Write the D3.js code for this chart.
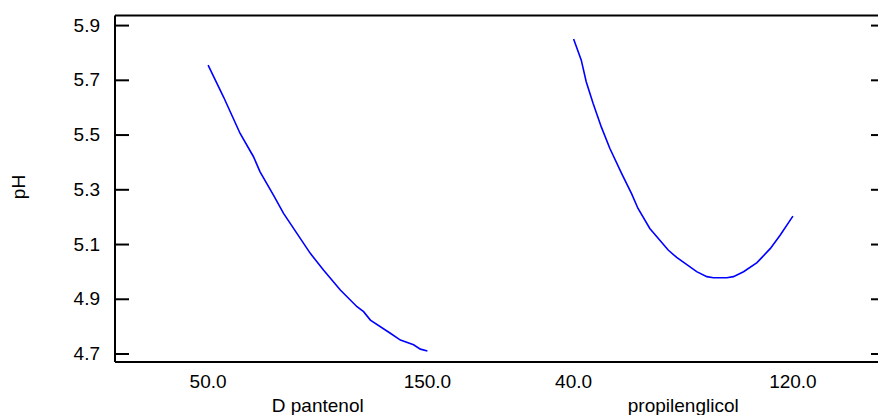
<!DOCTYPE html>
<html>
<head>
<meta charset="utf-8">
<script src="https://cdn.jsdelivr.net/npm/d3@7"></script>
<style>
  html, body { margin: 0; padding: 0; background: #fff; }
  svg { display: block; }
  text { font-family: "Liberation Sans", Arial, sans-serif; font-size: 19px; fill: #000; }
</style>
</head>
<body>
<svg id="chart" width="878" height="415"></svg>
<script>
// ---- data ----
const factors = ["D pantenol", "propilenglicol"];
const factorLow = [50, 40];
const factorHigh = [150, 120];
const xTickLabels = [["50.0", "150.0"], ["40.0", "120.0"]];
const yTicks = [4.7, 4.9, 5.1, 5.3, 5.5, 5.7, 5.9];
const yLabel = "pH";

const pantenolX = [50, 57.0, 64.6, 70.7, 73.7, 79.8, 84.4, 90.5, 96.6, 102.6, 110.3, 117.9, 120.9, 124.0, 133.1, 137.7, 143.7, 146.8, 150];
const pantenolPH = [5.754, 5.638, 5.504, 5.419, 5.364, 5.279, 5.212, 5.139, 5.066, 5.005, 4.932, 4.871, 4.853, 4.822, 4.774, 4.749, 4.732, 4.716, 4.709];

const propilenX = [40, 42.8, 44.6, 47.1, 50.1, 53.2, 57.5, 61.1, 63.5, 67.8, 74.5, 77.6, 84.9, 88.6, 91.0, 95.9, 98.3, 102.0, 106.9, 111.8, 115.4, 120];
const propilenPH = [5.849, 5.772, 5.693, 5.614, 5.528, 5.450, 5.358, 5.285, 5.230, 5.157, 5.078, 5.051, 4.999, 4.981, 4.977, 4.977, 4.981, 4.999, 5.032, 5.084, 5.133, 5.202];

const seriesX = [pantenolX, propilenX];
const seriesY = [pantenolPH, propilenPH];

// ---- layout ----
const svg = d3.select("#chart");
const plot = { left: 115, right: 885, top: 15.5, bottom: 362 };

const y = d3.scaleLinear().domain([4.669, 5.935]).range([plot.bottom, plot.top]);
const band = d3.scaleBand().domain(factors).range([135, 866]).padding(0);
const inner = factors.map((f, i) => {
  const b0 = band(f), bw = band.bandwidth();
  return d3.scaleLinear().domain([factorLow[i], factorHigh[i]]).range([b0 + 0.2 * bw, b0 + 0.8 * bw]);
});

// frame
svg.append("line").attr("x1", plot.left).attr("x2", plot.right).attr("y1", plot.top).attr("y2", plot.top)
  .attr("stroke", "#000").attr("stroke-width", 2);
svg.append("line").attr("x1", plot.left).attr("x2", plot.right).attr("y1", plot.bottom).attr("y2", plot.bottom)
  .attr("stroke", "#000").attr("stroke-width", 2);

// left axis
const leftAxis = d3.axisLeft(y).tickValues(yTicks).tickFormat(d3.format(".1f")).tickSizeInner(-14).tickSizeOuter(0).tickPadding(15);
const gl = svg.append("g").attr("transform", `translate(${plot.left},0)`).call(leftAxis);
gl.attr("font-size", null).attr("font-family", null);
gl.select(".domain").attr("stroke", "#000").attr("stroke-width", 2).attr("d", `M0,${plot.top}V${plot.bottom}`);
gl.selectAll(".tick line").attr("stroke", "#000").attr("stroke-width", 2);
gl.selectAll(".tick text").attr("fill", "#000");

// right axis
const rightAxis = d3.axisRight(y).tickValues(yTicks).tickFormat("").tickSizeInner(-14).tickSizeOuter(0);
const gr = svg.append("g").attr("transform", `translate(${plot.right},0)`).call(rightAxis);
gr.select(".domain").attr("stroke", "#000").attr("stroke-width", 2);
gr.selectAll(".tick line").attr("stroke", "#000").attr("stroke-width", 2);

// x tick labels and factor names
factors.forEach((f, i) => {
  const sc = inner[i];
  [factorLow[i], factorHigh[i]].forEach((v, j) => {
    svg.append("text").attr("x", sc(v)).attr("y", 388).attr("text-anchor", "middle").text(xTickLabels[i][j]);
  });
  svg.append("text").attr("x", band(f) + band.bandwidth() / 2).attr("y", 412).attr("text-anchor", "middle").text(f);
});

// y label
svg.append("text").attr("transform", "translate(25,187) rotate(-90)").attr("text-anchor", "middle").text(yLabel);

// curves
const line = d3.line().curve(d3.curveLinear);
factors.forEach((f, i) => {
  const pts = seriesX[i].map((xv, k) => [inner[i](xv), y(seriesY[i][k])]);
  svg.append("path").attr("d", line(pts)).attr("fill", "none").attr("stroke", "#0000ff").attr("stroke-width", 1.6);
});
</script>
</body>
</html>
